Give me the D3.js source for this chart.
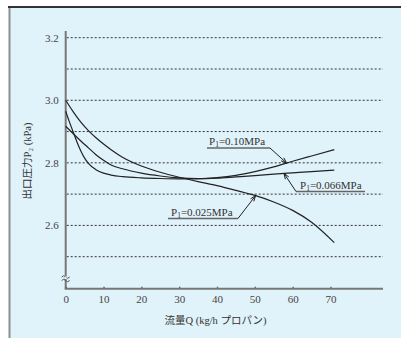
<!DOCTYPE html>
<html><head><meta charset="utf-8">
<script src="https://cdn.jsdelivr.net/npm/d3@7"></script>
<style>
html,body{margin:0;padding:0;background:#fff;}
svg{display:block;}
</style></head>
<body>
<script>
// ---- data ----
const flowQ = [0, 2, 4, 6, 8, 10, 12, 15, 20, 25, 30, 35, 40, 45, 50, 55, 60, 65, 71];
const p025 = [3.000, 2.963, 2.930, 2.903, 2.880, 2.860, 2.842, 2.818, 2.790, 2.770, 2.754, 2.740, 2.727, 2.712, 2.696, 2.675, 2.648, 2.610, 2.545];
const p066Q = [0, 1, 2, 3, 4, 5, 6, 8, 10, 12, 15, 20, 25, 30, 35, 40, 45, 50, 55, 60, 65, 71];
const p066 = [2.965, 2.930, 2.898, 2.866, 2.838, 2.815, 2.798, 2.778, 2.767, 2.761, 2.756, 2.752, 2.750, 2.749, 2.749, 2.751, 2.755, 2.759, 2.764, 2.768, 2.772, 2.777];
const p10 = [2.917, 2.893, 2.870, 2.848, 2.826, 2.808, 2.793, 2.781, 2.767, 2.758, 2.752, 2.750, 2.753, 2.760, 2.772, 2.787, 2.805, 2.822, 2.842];
const xTicks = [0, 10, 20, 30, 40, 50, 60, 70];
const yTickLabels = [3.2, 3.0, 2.8, 2.6];
const yGrid = [3.2, 3.1, 3.0, 2.9, 2.8, 2.7, 2.6, 2.5];
const seriesLabels = ["0.10MPa", "0.066MPa", "0.025MPa"];
const arrowQ = [58.4, 57.7, 50.2];
const xTitle = "流量Q (kg/h プロパン)";
const yTitle = "出口圧力P₂ (kPa)";

const SERIF = '"Liberation Serif", "DejaVu Serif", serif';
const CJK = '"Liberation Serif", "Noto Sans CJK JP", serif';

const W = 401, H = 338;
const svg = d3.select("body").append("svg").attr("width", W).attr("height", H);

// panel background & frame
svg.append("rect").attr("x", 9).attr("y", 7).attr("width", W - 9).attr("height", H - 7).attr("fill", "#e0f2fa");
svg.append("line").attr("x1", 9.5).attr("x2", 9.5).attr("y1", 7).attr("y2", H).attr("stroke", "#8a8f93").attr("stroke-width", 2);
svg.append("line").attr("x1", 8).attr("x2", W).attr("y1", 7).attr("y2", 7).attr("stroke", "#333").attr("stroke-width", 2);

const x = d3.scaleLinear().domain([0, 70]).range([65.7, 330.5]);
const y = d3.scaleLinear().domain([2.5, 3.2]).range([256.7, 37.7]);
const axisY = 288.7, axisRight = 383;

// grid
svg.append("g").selectAll("line").data(yGrid).join("line")
  .attr("x1", x(0) + 1).attr("x2", axisRight)
  .attr("y1", d => y(d)).attr("y2", d => y(d))
  .attr("stroke", "#333").attr("stroke-width", 1).attr("stroke-dasharray", "2,2");

// y axis
const gy = svg.append("g").attr("transform", `translate(${x(0)},0)`)
  .call(d3.axisLeft(y).tickValues(yTickLabels).tickSize(0).tickPadding(7).tickFormat(d3.format(".1f")));
gy.select(".domain").remove();
gy.selectAll("text").attr("font-size", 11).attr("fill", "#444").style("font-family", SERIF);
svg.append("line").attr("x1", x(0)).attr("x2", x(0)).attr("y1", 31).attr("y2", axisY)
  .attr("stroke", "#777").attr("stroke-width", 2);

// x axis
const gx = svg.append("g").attr("transform", `translate(0,${axisY})`)
  .call(d3.axisTop(x).tickValues(xTicks).tickSize(2).tickFormat(d3.format("d")));
gx.select(".domain").remove();
gx.selectAll(".tick line").attr("stroke", "#666").attr("stroke-width", 1.5);
gx.selectAll("text").attr("font-size", 11).attr("fill", "#444").style("font-family", SERIF)
  .attr("y", 14).attr("dy", 0);
svg.append("line").attr("x1", x(0) - 1).attr("x2", axisRight).attr("y1", axisY).attr("y2", axisY)
  .attr("stroke", "#777").attr("stroke-width", 2);

// axis break mark
const bk = svg.append("g").attr("fill", "none").attr("stroke", "#555").attr("stroke-width", 1);
[276, 279.5].forEach(yy => {
  bk.append("path").attr("d", `M${x(0)-4},${yy+1} q2,-2.5 4,0 q2,2.5 4,0`);
});
svg.append("rect").attr("x", x(0) - 1).attr("y", 276.5).attr("width", 2).attr("height", 2.5).attr("fill", "#e0f2fa");

// curves
const line = d3.line().x(d => x(d[0])).y(d => y(d[1])).curve(d3.curveMonotoneX);
const data025 = flowQ.map((q, i) => [q, p025[i]]);
const data066 = p066Q.map((q, i) => [q, p066[i]]);
const data10 = flowQ.map((q, i) => [q, p10[i]]);
const curves = [data10, data066, data025];
svg.append("g").selectAll("path").data(curves).join("path")
  .attr("d", line).attr("fill", "none").attr("stroke", "#222").attr("stroke-width", 1.2);

// annotations
function interp(data, q) {
  for (let i = 1; i < data.length; i++) {
    if (q <= data[i][0]) {
      const t = (q - data[i-1][0]) / (data[i][0] - data[i-1][0]);
      return data[i-1][1] + t * (data[i][1] - data[i-1][1]);
    }
  }
  return data[data.length - 1][1];
}
const labelLayout = [
  {tx: 209, ty: 145, ux1: 207, ux2: 270, lx: 270, ly: 148},
  {tx: 300, ty: 189, ux1: 296, ux2: 365, lx: 296, ly: 191.5},
  {tx: 171, ty: 216, ux1: 168, ux2: 238, lx: 238, ly: 218.5}
];
const ann = svg.append("g");
seriesLabels.forEach((lab, i) => {
  const L = labelLayout[i];
  const t = ann.append("text").attr("x", L.tx).attr("y", L.ty).attr("font-size", 11).attr("fill", "#333")
    .style("font-family", SERIF);
  t.append("tspan").text("P");
  t.append("tspan").attr("font-size", 7.5).attr("dy", 2).text("1");
  t.append("tspan").attr("dy", -2).text("=" + lab);
  ann.append("line").attr("x1", L.ux1).attr("x2", L.ux2).attr("y1", L.ly).attr("y2", L.ly)
    .attr("stroke", "#666").attr("stroke-width", 1.6);
  const tipX = x(arrowQ[i]), tipY = y(interp(curves[i], arrowQ[i]));
  ann.append("line").attr("x1", L.lx).attr("y1", L.ly).attr("x2", tipX).attr("y2", tipY)
    .attr("stroke", "#222").attr("stroke-width", 1);
  const ang = Math.atan2(tipY - L.ly, tipX - L.lx);
  const len = 6, spread = 0.35;
  const p1 = [tipX - len * Math.cos(ang - spread), tipY - len * Math.sin(ang - spread)];
  const p2 = [tipX - len * Math.cos(ang + spread), tipY - len * Math.sin(ang + spread)];
  ann.append("path").attr("d", `M${p1[0]},${p1[1]} L${tipX},${tipY} L${p2[0]},${p2[1]}`)
    .attr("fill", "none").attr("stroke", "#222").attr("stroke-width", 1);
});

// axis titles
svg.append("text").attr("x", 215.5).attr("y", 323.5).attr("text-anchor", "middle")
  .attr("font-size", 10.5).attr("fill", "#333").style("font-family", CJK).text(xTitle);
svg.append("text").attr("transform", "translate(31,161) rotate(-90)").attr("text-anchor", "middle")
  .attr("font-size", 10.5).attr("fill", "#333").style("font-family", CJK).text(yTitle);
</script>
</body></html>
